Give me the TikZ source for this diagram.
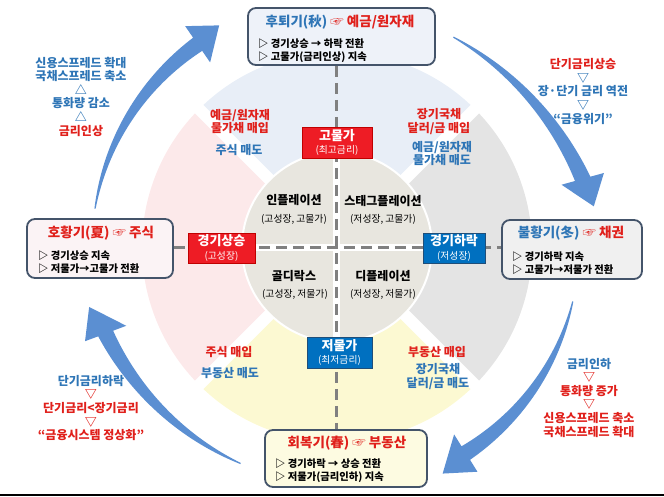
\documentclass[tikz,border=0pt]{standalone}
\usepackage{fontspec}
\setmainfont{Noto Sans CJK KR}
\usepackage{xcolor}
\usepackage{tikz}
\tikzset{
	seasonbox/.style = {draw=boxline, line width=1.8pt, rounded corners=8pt, inner sep=0pt},
	boxtitle/.style = {inner sep=0pt, font=\fontsize{13.5}{16}\selectfont\bfseries},
	boxnote/.style = {align=left, anchor=west, inner sep=0pt, font=\fontsize{10.3}{12.8}\selectfont\bfseries},
	phase/.style = {align=center, text=white, inner sep=0pt, line width=0.8pt, font=\fontsize{13}{13.5}\selectfont\bfseries},
	quad/.style = {inner sep=0pt, font=\fontsize{12}{13}\selectfont\bfseries},
	quadsub/.style = {inner sep=0pt, font=\fontsize{9.8}{11}\selectfont},
	asset/.style = {align=center, inner sep=0pt, font=\fontsize{12}{13.5}\selectfont\bfseries},
	flow/.style = {align=center, inner sep=0pt, font=\fontsize{12}{13.6}\selectfont\bfseries},
	dashline/.style = {draw=midgray, line width=3pt, dash pattern=on 11pt off 6pt},
}
\definecolor{cred}{HTML}{E0201B}
\definecolor{cblue}{HTML}{2E75B6}
\definecolor{boxline}{HTML}{44546A}
\definecolor{midgray}{HTML}{808080}
\definecolor{arrowblue}{HTML}{5B8FD2}
\definecolor{labred}{HTML}{EE1C25}
\definecolor{labredline}{HTML}{C00000}
\definecolor{labblue}{HTML}{0070C0}
\definecolor{labblueline}{HTML}{1F4E79}
\definecolor{secautumn}{HTML}{E8EEF7}
\definecolor{secsummer}{HTML}{FCE9EA}
\definecolor{secwinter}{HTML}{E4E4E4}
\definecolor{secspring}{HTML}{FCF9D2}
\definecolor{innerfill}{HTML}{E8E6DF}
\definecolor{boxautumn}{HTML}{EEF2F9}
\definecolor{boxsummer}{HTML}{FBF3F5}
\definecolor{boxwinter}{HTML}{F0F0F0}
\definecolor{boxspring}{HTML}{FDFBE1}
% tail angle, tail radius, head angle, head radius, tip angle, tip radius
\newcommand{\cyclearrow}[6]{%
	\fill[arrowblue] plot[domain=0:1, samples=40, smooth] ({(#1)+((#3)-(#1))*\x}:{(#2)+((#4)-(#2))*\x*\x+0.6+7.4*\x})
		-- ({#3}:{(#4)+22}) -- ({#5}:{#6}) -- ({#3}:{(#4)-22})
		-- plot[domain=1:0, samples=40, smooth] ({(#1)+((#3)-(#1))*\x}:{(#2)+((#4)-(#2))*\x*\x-0.6-7.4*\x}) -- cycle;
}

\begin{document}
\begin{tikzpicture}[x=1pt, y=1pt]
	\useasboundingbox (-337,-249) rectangle (327,247);
	\coordinate (o) at (0,0);

	\fill[secautumn] (o) -- (45:195) arc[start angle=45, end angle=135, radius=195] -- cycle;
	\fill[secsummer] (o) -- (135:195) arc[start angle=135, end angle=225, radius=195] -- cycle;
	\fill[secspring] (o) -- (225:195) arc[start angle=225, end angle=315, radius=195] -- cycle;
	\fill[secwinter] (o) -- (-45:195) arc[start angle=-45, end angle=45, radius=195] -- cycle;
	\foreach \a in {45,135,225,315}
		\draw[white, line width=12pt] (o) -- (\a:200);
	\fill[innerfill, draw=white, line width=2pt] (o) circle[radius=95];
	\draw[white, line width=7pt] (-95,0) -- (95,0) (0,-95) -- (0,95);

	\cyclearrow{171}{245}{124.5}{246}{118}{251}
	\cyclearrow{61}{240}{15.5}{255}{9}{260}
	\cyclearrow{-13}{242}{-58}{243}{-65}{250}
	\cyclearrow{246}{237}{200.5}{247}{193.6}{255}

	\node[seasonbox, fill=boxautumn, minimum width=187, minimum height=57] (autumn) at (4.5,210.5) {};
	\node[boxtitle] (autumnT) at (3,225) {{\color{cblue}후퇴기(秋)} {\color{cred}☞ 예금/원자재}};
	\node[boxnote] (autumnN) at (-79,196) {▷ 경기상승 → 하락 전환\\▷ 고물가(금리인상) 지속};

	\node[seasonbox, fill=boxsummer, minimum width=146, minimum height=59] (summer) at (-237,-1.5) {};
	\node[boxtitle, text=cred] (summerT) at (-236,14) {호황기(夏) ☞ 주식};
	\node[boxnote] (summerN) at (-299,-15) {▷ 경기상승 지속\\▷ 저물가→고물가 전환};

	\node[seasonbox, fill=boxwinter, minimum width=140, minimum height=59] (winter) at (235,-2.5) {};
	\node[boxtitle] (winterT) at (234,14) {{\color{cblue}불황기(冬)} {\color{cred}☞ 채권}};
	\node[boxnote] (winterN) at (175,-16) {▷ 경기하락 지속\\▷ 고물가→저물가 전환};

	\node[seasonbox, fill=boxspring, minimum width=162, minimum height=57] (spring) at (9,-211.5) {};
	\node[boxtitle, text=cred] (springT) at (10,-196) {회복기(春) ☞ 부동산};
	\node[boxnote] (springN) at (-62,-224) {▷ 경기하락 → 상승 전환\\▷ 저물가(금리인하) 지속};

	\draw[dashline] (autumn.south -| o) -- (spring.north -| o);
	\draw[dashline] (summer.east |- o) -- (winter.west |- o);

	\node[phase, fill=labred, draw=labredline, minimum width=70, minimum height=31] (peak) at (0,104.5) {고물가\\{\fontsize{9.8}{10.5}\selectfont\mdseries (최고금리)}};
	\node[phase, fill=labblue, draw=labblueline, minimum width=65, minimum height=31] (trough) at (2.5,-105.5) {저물가\\{\fontsize{9.8}{10.5}\selectfont\mdseries (최저금리)}};
	\node[phase, fill=labred, draw=labredline, minimum width=67, minimum height=30] (boom) at (-115.5,-1) {경기상승\\{\fontsize{9.8}{10.5}\selectfont\mdseries (고성장)}};
	\node[phase, fill=labblue, draw=labblueline, minimum width=62, minimum height=30] (slump) at (117,-1) {경기하락\\{\fontsize{9.8}{10.5}\selectfont\mdseries (저성장)}};

	\node[quad] (infl) at (-43,47) {인플레이션};
	\node[quadsub] (inflS) at (-43,28) {(고성장, 고물가)};
	\node[quad] (stag) at (46,46) {스태그플레이션};
	\node[quadsub] (stagS) at (46,28) {(저성장, 고물가)};
	\node[quad] (gold) at (-43,-29) {골디락스};
	\node[quadsub] (goldS) at (-42,-47) {(고성장, 저물가)};
	\node[quad] (defl) at (46,-29) {디플레이션};
	\node[quadsub] (deflS) at (46,-47) {(저성장, 저물가)};

	\node[asset, text=cred] (tlBuy) at (-97,125.5) {예금/원자재\\물가채 매입};
	\node[asset, text=cblue] (tlSell) at (-98,97) {주식 매도};
	\node[asset, text=cred] (trBuy) at (102,125.5) {장기국채\\달러/금 매입};
	\node[asset, text=cblue] (trSell) at (105,93.5) {예금/원자재\\물가채 매도};
	\node[asset, text=cred] (blBuy) at (-108,-105) {주식 매입};
	\node[asset, text=cblue] (blSell) at (-107,-126) {부동산 매도};
	\node[asset, text=cred] (brBuy) at (100,-105) {부동산 매입};
	\node[asset, text=cblue] (brSell) at (101,-129.5) {장기국채\\달러/금 매도};

	\node[flow, text=cblue] (tlFlow) at (-256,150.5) {신용스프레드 확대\\국채스프레드 축소\\△\\통화량 감소\\△\\{\color{cred}금리인상}};
	\node[flow, text=cblue] (trFlow) at (246,155.5) {{\color{cred}단기금리상승}\\▽\\장·단기 금리 역전\\▽\\“금융위기”};
	\node[flow, text=cred] (blFlow) at (-246,-161) {{\color{cblue}단기금리하락}\\▽\\단기금리<장기금리\\▽\\“금융시스템 정상화”};
	\node[flow, text=cred] (brFlow) at (252,-150.5) {{\color{cblue}금리인하}\\▽\\통화량 증가\\▽\\신용스프레드 축소\\국채스프레드 확대};

	\draw[line width=1.5pt] (-337,-248) -- (327,-248);
\end{tikzpicture}
\end{document}
